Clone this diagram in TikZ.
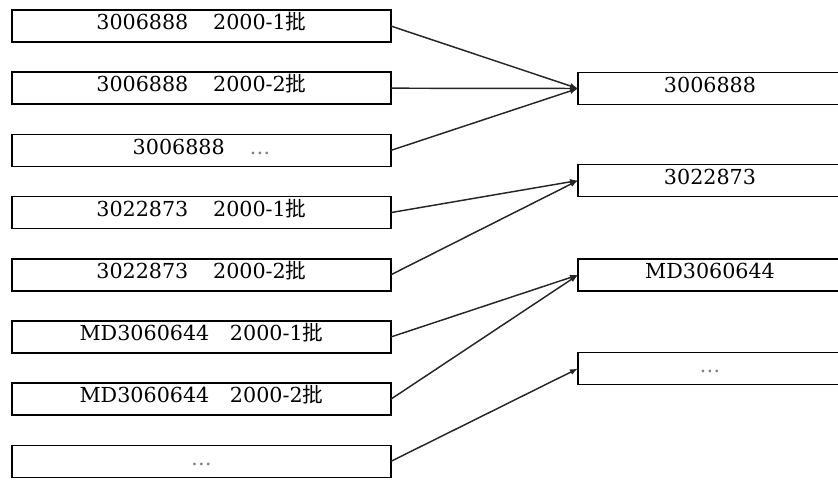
\documentclass[tikz,border=0pt]{standalone}
\usepackage{fontspec}
\setmainfont{DejaVu Serif}
\newfontfamily\cjk{Noto Sans CJK SC}
\usetikzlibrary{arrows.meta}

\newcommand{\lotmark}{{\cjk 批}}
\newcommand{\moredots}{\textcolor{gray}{\ldots}}

\begin{document}
\begin{tikzpicture}[
            x=0.75pt, y=-0.75pt,
            lot/.style={draw, line width=1.3pt, minimum width=284pt, minimum height=24pt,
                inner sep=0pt, outer sep=0pt, font=\fontsize{15.5}{18}\selectfont,
                text height=11.3pt, text depth=5.9pt},
            part/.style={lot, minimum width=198pt},
            link/.style={-{Latex[length=6pt,width=4.5pt]}, line width=1.1pt, black!85}
        ]
            \useasboundingbox (0,0) rectangle (838,479);
            % batches
            \node[lot] (l1) at (201.5, 26)    {3006888\hspace{1.2em}2000-1\lotmark};
            \node[lot] (l2) at (201.5, 88.2)  {3006888\hspace{1.2em}2000-2\lotmark};
            \node[lot] (l3) at (201.5, 150.4) {3006888\hspace{1.2em}\moredots};
            \node[lot] (l4) at (201.5, 212.6) {3022873\hspace{1.2em}2000-1\lotmark};
            \node[lot] (l5) at (201.5, 274.8) {3022873\hspace{1.2em}2000-2\lotmark};
            \node[lot] (l6) at (201.5, 337)   {MD3060644\hspace{1em}2000-1\lotmark};
            \node[lot] (l7) at (201.5, 399.2) {MD3060644\hspace{1em}2000-2\lotmark};
            \node[lot] (l8) at (201.5, 461.4) {\moredots};
            % parts
            \node[part] (r1) at (710, 88.5)  {3006888};
            \node[part] (r2) at (710, 180.5) {3022873};
            \node[part] (r3) at (710, 275)   {MD3060644};
            \node[part] (r4) at (710, 368.5) {\moredots};
            \draw[link] (l1.east) -- (r1.west);
            \draw[link] (l2.east) -- (r1.west);
            \draw[link] (l3.east) -- (r1.west);
            \draw[link] (l4.east) -- (r2.west);
            \draw[link] (l5.east) -- (r2.west);
            \draw[link] (l6.east) -- (r3.west);
            \draw[link] (l7.east) -- (r3.west);
            \draw[link] (l8.east) -- (r4.west);
        \end{tikzpicture}
\end{document}
